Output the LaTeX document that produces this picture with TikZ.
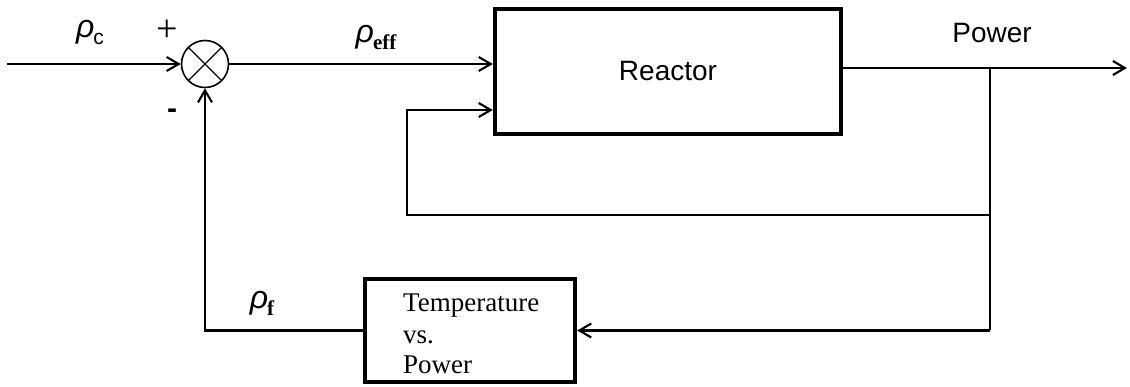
\documentclass[tikz,border=0pt]{standalone}
\usepackage{fontspec}
\setmainfont{Liberation Serif}
\newfontfamily\arialf{Liberation Sans}
\usetikzlibrary{arrows.meta}
\newcommand{\rhosym}[2]{{\arialf\itshape\fontsize{32}{34}\selectfont ρ}\kern-1pt\raisebox{-7pt}{#1\fontsize{21}{24}\selectfont #2}}
\begin{document}
\begin{tikzpicture}[x=1pt,y=-1pt,
  wire/.style={line width=2.3pt},
  tip/.style={-{Straight Barb[length=12pt,width=14pt,line width=2.1pt]}},
  blockbox/.style={draw,line width=4.4pt,inner sep=0pt},
  sanslbl/.style={font=\arialf\fontsize{28}{34}\selectfont,inner sep=0pt},
  seriflbl/.style={font=\fontsize{27}{32}\selectfont,inner sep=0pt,align=left},
  sumnode/.style={circle,draw,line width=1.6pt,minimum size=47pt,inner sep=0pt,
    path picture={\draw[line width=1.4pt]
      (path picture bounding box.south west) -- (path picture bounding box.north east)
      (path picture bounding box.north west) -- (path picture bounding box.south east);}}]
\useasboundingbox (0,0) rectangle (1130,387);

% blocks
\node[blockbox,minimum width=346pt,minimum height=125pt,sanslbl] (reactor) at (668,71.5) {Reactor};
\node[blockbox,minimum width=210pt,minimum height=103pt] (temp) at (470,330.5) {};
\node[seriflbl,anchor=west] (ttext) at (403,334) {Temperature\\[0pt]vs.\\[-2pt]Power};
\node[sumnode] (sum) at (205,64) {};

% coordinates
\coordinate (in) at (7,64);
\coordinate (split) at (990,68);
\coordinate (out) at (1127,68);
\coordinate (corner) at (990,330.5);
\coordinate (fbtop) at (407,110);
\coordinate (fbbot) at (407,215);

% connectors
\draw[wire,tip] (in) -- (sum.west);
\draw[wire,tip] (sum.east) -- (sum.east -| reactor.west);
\draw[wire] (split -| reactor.east) -- (split);
\draw[wire,tip] (split) -- (out);
\draw[wire] (split) -- (corner);
\draw[wire,tip] (split |- fbbot) -- (fbbot) -- (fbtop) -- (fbtop -| reactor.west);
\draw[wire,tip] (corner) -- (temp.east);
\draw[wire,tip] (temp.west) -| (sum.south);

% labels
\node[inner sep=0pt] (rc) at (90,32) {\rhosym{\arialf}{c}};
\node[inner sep=0pt] (reff) at (376,37) {\rhosym{\bfseries}{eff}};
\node[inner sep=0pt] (rf) at (262,303) {\rhosym{\bfseries}{f}};
\node[inner sep=0pt,font=\fontsize{38}{40}\selectfont] (plus) at (167,31) {+};
\node[inner sep=0pt,font=\arialf\bfseries\fontsize{30}{34}\selectfont] (minus) at (172,114) {-};
\node[sanslbl] (power) at (992,33) {Power};
\end{tikzpicture}
\end{document}
